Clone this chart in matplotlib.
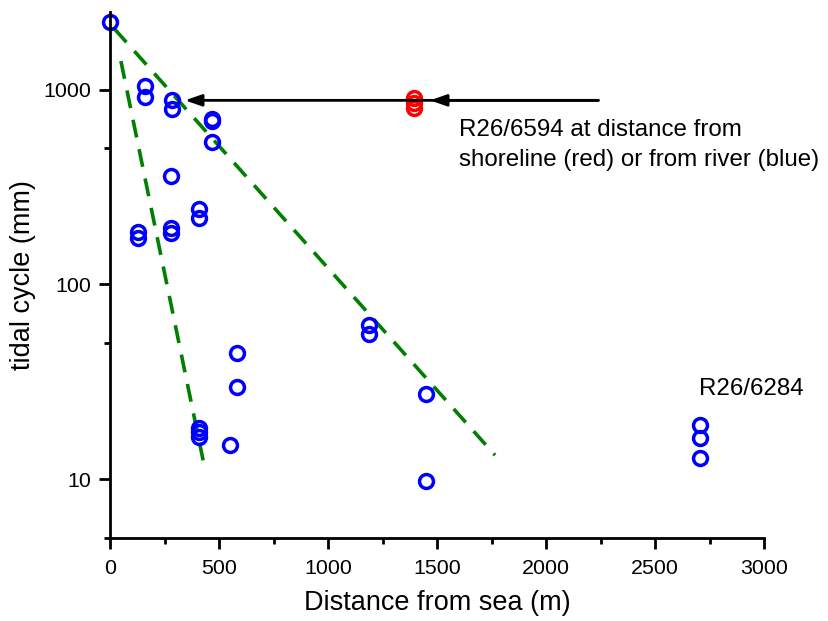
import matplotlib
matplotlib.use("Agg")
import matplotlib.pyplot as plt
from matplotlib.ticker import FixedLocator, NullFormatter, MultipleLocator

plt.rcParams['font.family'] = ['Liberation Sans', 'DejaVu Sans']

# blue: distance from river / sea
blue_x = [0, 160, 160, 284, 284, 468, 468, 468, 280, 408, 408, 280, 280, 130, 130,
          581, 581, 408, 408, 408, 550, 1189, 1189, 1450, 1450, 2706, 2706, 2706]
blue_y = [2230, 1040, 920, 880, 790, 710, 690, 541, 359, 245, 218, 194, 184, 185, 174,
          44.3, 29.9, 18.4, 17.4, 16.4, 15.0, 61.8, 55.4, 27.5, 9.8, 19.0, 16.2, 12.8]

# red: R26/6594 at distance from shoreline
red_x = [1394, 1394, 1394]
red_y = [905, 850, 806]

# dashed envelope lines
line1_x = [20, 1766]
line1_y = [2050, 13.3]
line2_x = [50, 436]
line2_y = [1400, 11.2]

arrow_y = 880
arrow_start = 2240
arrow_ends = [344, 1468]

fig = plt.figure(figsize=(8.29, 6.21), dpi=100)
ax = fig.add_axes([0.1327, 0.1337, 0.7889, 0.847])

ax.plot(line1_x, line1_y, color='#008000', lw=2.6, dashes=(5, 3.3))
ax.plot(line2_x, line2_y, color='#008000', lw=2.6, dashes=(5, 3.3))

ax.plot(blue_x, blue_y, 'o', ms=10, mfc='none', mec='#0000ff', mew=2.5, clip_on=False)
ax.plot(red_x, red_y, 'o', ms=10, mfc='none', mec='#ff0000', mew=2.5)

for xe in arrow_ends:
    ax.annotate('', xy=(xe, arrow_y), xytext=(arrow_start, arrow_y),
                arrowprops=dict(arrowstyle='-|>,head_length=1.0,head_width=0.35',
                                color='black', lw=2, shrinkA=0, shrinkB=0))

ax.text(1600, 707, 'R26/6594 at distance from\nshoreline (red) or from river (blue)',
        fontsize=17.4, va='top', ha='left', linespacing=1.5)
ax.text(2700, 29, 'R26/6284', fontsize=17.4, va='center', ha='left')

ax.set_yscale('log')
ax.set_xlim(0, 3000)
ax.set_ylim(5, 2500)
ax.xaxis.set_major_locator(MultipleLocator(500))
ax.xaxis.set_minor_locator(MultipleLocator(250))
ax.yaxis.set_major_locator(FixedLocator([10, 100, 1000]))
ax.yaxis.set_minor_locator(FixedLocator([5, 50, 500]))
ax.yaxis.set_minor_formatter(NullFormatter())
ax.set_yticklabels(['10', '100', '1000'])

for s in ['top', 'right']:
    ax.spines[s].set_visible(False)
for s in ['left', 'bottom']:
    ax.spines[s].set_linewidth(2)

ax.tick_params(which='major', direction='out', length=8, width=2, labelsize=15.4)
ax.tick_params(which='minor', direction='out', length=4, width=2)
ax.tick_params(axis='x', which='major', pad=7)
ax.tick_params(axis='y', which='major', pad=5.5)

ax.set_xlabel('Distance from sea (m)', fontsize=19.5, labelpad=9)
ax.set_ylabel('tidal cycle (mm)', fontsize=19.5, labelpad=5)

fig.savefig('out.png', dpi=100)
